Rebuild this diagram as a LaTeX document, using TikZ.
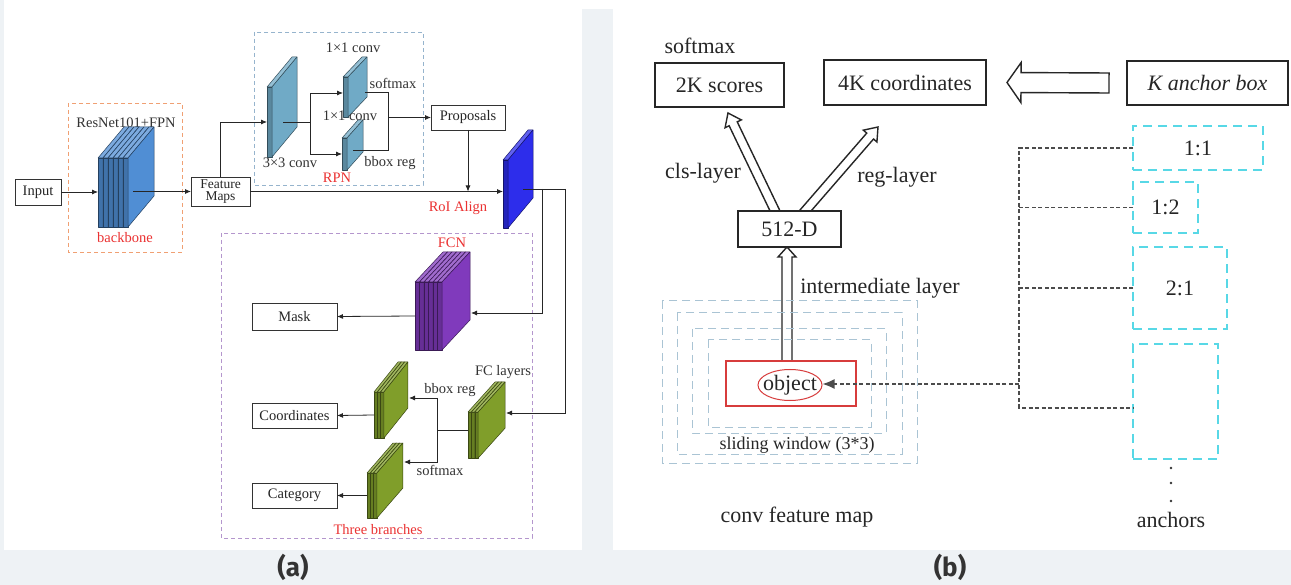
\documentclass[tikz,border=0pt]{standalone}
\usepackage{fontspec}
\setmainfont{Liberation Serif}
\newfontfamily\capfont{Fira Sans}
\usetikzlibrary{arrows.meta,calc,shapes.geometric}

\definecolor{pagebg}{RGB}{238,242,245}
\definecolor{labred}{RGB}{235,50,50}
\definecolor{bborange}{RGB}{240,160,115}
\definecolor{rpngrey}{RGB}{150,180,205}
\definecolor{brpurple}{RGB}{180,150,205}
\definecolor{bbblue}{RGB}{80,142,212}
\definecolor{rpnsteel}{RGB}{112,170,198}
\definecolor{roiblue}{RGB}{45,45,235}
\definecolor{fcnpurple}{RGB}{128,58,188}
\definecolor{fcgreen}{RGB}{128,158,42}
\definecolor{winblue}{RGB}{170,196,212}
\definecolor{ancyan}{RGB}{88,216,230}
\definecolor{objred}{RGB}{215,60,60}

\pgfdeclarelayer{bg}
\pgfdeclarelayer{mid}
\pgfsetlayers{bg,mid,main}

\tikzset{
  lbox/.style={draw=black!80, line width=0.9pt, fill=white, inner sep=0pt, outer sep=0pt,
    font=\fontsize{14.5}{15}\selectfont, text=black!85},
  rbox/.style={draw=black!85, line width=1.6pt, fill=white, inner sep=0pt, outer sep=0pt,
    font=\fontsize{22}{24}\selectfont, text=black!85},
  flow/.style={draw=black!85, line width=0.8pt, -{Latex[length=6pt,width=5pt]}},
  wire/.style={draw=black!85, line width=0.8pt},
  lab/.style={font=\fontsize{14.5}{15}\selectfont, text=black!80, inner sep=0pt},
  redlab/.style={lab, text=labred},
  rlab/.style={font=\fontsize{22}{24}\selectfont, text=black!85, inner sep=0pt},
  grpbox/.style={dash pattern=on 4pt off 3pt, line width=0.9pt},
  winbox/.style={draw=winblue, dash pattern=on 8pt off 5pt, line width=1pt},
  ancbox/.style={draw=ancyan, dash pattern=on 9pt off 6pt, line width=1.6pt, inner sep=0pt,
    outer sep=0pt, font=\fontsize{22}{24}\selectfont, text=black!85},
  ancline/.style={draw=black!70, dash pattern=on 4pt off 2.5pt, line width=1.3pt},
  slabedge/.style={draw=#1, line width=0.5pt, line join=round},
  hollow/.style={fill=white, draw=black!85, line width=1.4pt, line join=miter},
}

% a stack of 3-D feature slabs: name, count, x, y, width, height, depth-x, depth-rise, colour
\newcommand\slabstack[9]{%
  \foreach \k in {1,...,#2}{%
    \pgfmathsetmacro\sx{#3+(\k-1)*#5}%
    \filldraw[slabedge=#9!45!black, fill=#9!80!black] (\sx,#4) rectangle ++(#5,#6);
    \filldraw[slabedge=#9!45!black, fill=#9!75!white] (\sx,#4) -- ++(#7,-#8) -- ++(#5,0) -- ++(-#7,#8) -- cycle;
    \filldraw[slabedge=#9!45!black, fill=#9] ({\sx+#5},#4) -- ++(#7,-#8) -- ++(0,#6) -- ++(-#7,#8) -- cycle;
  }%
  \node[inner sep=0pt, outer sep=0pt, minimum width={#2*#5}, minimum height=#6, anchor=north west] (#1) at (#3,#4) {};
}

% outlined block arrow: tail, tip, body half-width, head half-width, head length
\newcommand\hollowarrow[5]{%
  \coordinate (ha-m) at ($(#2)!#5!(#1)$);
  \filldraw[hollow] ($(#1)!#3!90:(#2)$) -- ($(ha-m)!#3!-90:(#1)$) -- ($(ha-m)!#4!-90:(#1)$)
    -- (#2) -- ($(ha-m)!#4!90:(#1)$) -- ($(ha-m)!#3!90:(#1)$) -- ($(#1)!#3!-90:(#2)$) -- cycle;
}

\begin{document}
\begin{tikzpicture}[x=1pt,y=-1pt]
\useasboundingbox (0,0) rectangle (1291,585);

\begin{pgfonlayer}{bg}
  \fill[pagebg] (0,0) rectangle (1291,585);
  \fill[white] (4,0) rectangle (582,550);
  \fill[white] (613,0) rectangle (1291,550);
  \fill[white] (582,0) rectangle (613,9);
\end{pgfonlayer}

% ---------------- (a) Mask R-CNN ----------------
\draw[grpbox, draw=bborange] (68,103) rectangle (182,252);
\draw[grpbox, draw=rpngrey] (254,32) rectangle (423,185);
\draw[grpbox, draw=brpurple] (221,233) rectangle (532,538);

\node[lab] at (126,123) {ResNet101+FPN};

\slabstack{bb}{6}{98}{158}{5}{69}{26}{31}{bbblue}
\slabstack{c33}{1}{267}{87}{5}{70}{25}{30}{rpnsteel}
\slabstack{s1}{1}{343}{77}{5}{40}{19}{20}{rpnsteel}
\slabstack{s2}{1}{342}{138}{5}{32}{16}{18}{rpnsteel}
\slabstack{roi}{1}{503}{160}{5}{68}{25}{30}{roiblue}
\slabstack{fcn}{6}{415}{282}{4.5}{68}{28}{30}{fcnpurple}
\slabstack{fc}{3}{468}{412}{3.4}{46}{27}{30}{fcgreen}
\slabstack{g1}{3}{374}{392}{3.3}{46}{24}{30}{fcgreen}
\slabstack{g2}{3}{367}{473}{3.3}{45}{26}{30}{fcgreen}

\node[lbox, minimum width=46, minimum height=26] (in) at (38,192) {Input};
\node[lbox, minimum width=59, minimum height=29, align=center,
      font=\fontsize{13.5}{12.5}\selectfont] (fm) at (220.5,191.5) {Feature\\Maps};
\node[lbox, minimum width=74, minimum height=25] (prop) at (468,117.5) {Proposals};
\node[lbox, minimum width=85, minimum height=27] (mask) at (294.5,316.5) {Mask};
\node[lbox, minimum width=85, minimum height=25] (coord) at (294.5,415.5) {Coordinates};
\node[lbox, minimum width=85, minimum height=25] (cat) at (294.5,495.5) {Category};

\coordinate (bbout) at (133,191.5);
\coordinate (c33out) at (283,122);
\coordinate (split) at (310,122);
\coordinate (s1out) at (365,92);
\coordinate (s2out) at (353,150);
\coordinate (join) at (388,117.5);
\coordinate (roiout) at (523,189);
\coordinate (tapA) at (542,189);
\coordinate (tapB) at (565,189);
\coordinate (fcnin) at (471,313);
\coordinate (fcin) at (506,413);
\coordinate (fcsplit) at (437,430);
\coordinate (g1in) at (409,398);
\coordinate (g2in) at (404,462);

\draw[flow] (in.east) -- (in.east -| bb.west);
\draw[flow] (bbout) -- (fm.west);
\draw[flow] (fm.north) |- (c33.west);
\draw[wire] (c33out) -- (split);
\draw[flow] (split) |- ($(s1.west)+(0,-4)$);
\draw[flow] (split) |- (s2.west);
\draw[wire] (s1out) -| (join);
\draw[wire] (s2out) -| (join);
\draw[flow] (join) -- (prop.west);
\draw[flow] (prop.south) -- (prop.south |- fm.east);
\draw[flow] (fm.east) -- (fm.east -| roi.west);
\draw[wire] (roiout) -- (tapB);
\draw[flow] (tapA) |- (fcnin);
\draw[flow] (tapB) |- (fcin);
\draw[flow] (fcn.west) -- (mask.east);
\draw[wire] (fc.west |- fcsplit) -- (fcsplit);
\draw[flow] (fcsplit) |- (g1in);
\draw[flow] (fcsplit) |- (g2in);
\draw[flow] (g1.west) -- (coord.east);
\draw[flow] (g2.west) -- (cat.east);

\node[redlab] at (125,238) {backbone};
\node[lab] at (353,48) {1×1 conv};
\node[lab] at (393,83) {softmax};
\node[lab] at (350,116) {1×1 conv};
\node[lab] at (290,163) {3×3 conv};
\node[lab] at (390,163) {bbox reg};
\node[redlab] at (337,178) {RPN};
\node[redlab] at (458,208) {RoI Align};
\node[redlab] at (452,243) {FCN};
\node[lab] at (503,372) {FC layers};
\node[lab] at (450,390) {bbox reg};
\node[lab] at (440,470) {softmax};
\node[redlab] at (378,530) {Three branches};

% ---------------- (b) RPN anchors ----------------
\draw[winbox] (662,301) rectangle (917,463);
\draw[winbox] (677,313) rectangle (902,454);
\draw[winbox] (692,329) rectangle (886,433);
\draw[winbox] (708,340) rectangle (871,427);

\node[draw=objred, line width=1.3pt, minimum width=130, minimum height=45, inner sep=0pt,
      outer sep=0pt] (objbox) at (791,383.5) {};
\node[ellipse, draw=objred, line width=1pt, minimum width=64, minimum height=31,
      inner sep=0pt] (obj) at (790,385) {};
\node[rlab] at (obj.center) {object};

\node[rbox, minimum width=129, minimum height=44] (k2) at (719.5,85) {2K scores};
\node[rbox, minimum width=162, minimum height=45] (k4) at (905,82.5) {4K coordinates};
\node[rbox, minimum width=161, minimum height=44] (kab) at (1207.5,83) {\itshape K anchor box};
\node[rbox, minimum width=103, minimum height=36] (d512) at (789.5,229) {512-D};

\node[ancbox, minimum width=130, minimum height=44] (a11) at (1198,148) {1:1};
\node[ancbox, minimum width=65, minimum height=51] (a12) at (1165.5,207.5) {1:2};
\node[ancbox, minimum width=94, minimum height=82] (a21) at (1180,288) {2:1};
\node[ancbox, minimum width=85, minimum height=115] (ae) at (1175.5,401.5) {};

\coordinate (clsT) at ($(d512.north)+(-13,3)$);
\coordinate (clsH) at ($(k2.south)+(8.5,6)$);
\coordinate (regT) at ($(d512.north)+(13,3)$);
\coordinate (regH) at ($(k4.south)+(-27,22)$);
\coordinate (intT) at ($(objbox.north)+(-4,0)$);
\coordinate (intH) at ($(d512.south)+(-2.5,0)$);
\coordinate (kT) at ($(kab.west)+(-18,0)$);
\coordinate (kH) at ($(k4.east)+(21,0)$);

\begin{pgfonlayer}{mid}
  \hollowarrow{clsT}{clsH}{4.5pt}{9pt}{12pt}
  \hollowarrow{regT}{regH}{4.5pt}{9pt}{12pt}
  \hollowarrow{intT}{intH}{5pt}{9pt}{10pt}
  \hollowarrow{kT}{kH}{10pt}{20pt}{14pt}
\end{pgfonlayer}

\coordinate (bus) at (1019,148);
\coordinate (busend) at (1019,408);
\coordinate (tap) at (1019,384);
\draw[ancline] (a11.west) -- (bus) -- (busend) -- (busend -| ae.west);
\draw[ancline] (a12.west) -- (a12.west -| bus);
\draw[ancline] (a21.west) -- (a21.west -| bus);
\draw[ancline, -{Latex[length=12pt,width=10pt]}] (tap) -- (tap -| obj.east);

\fill[black!80] (1171,468) circle (1.3);
\fill[black!80] (1171,483) circle (1.3);
\fill[black!80] (1171,501) circle (1.3);

\node[rlab] at (700,46) {softmax};
\node[rlab] at (703,173) {cls-layer};
\node[rlab] at (897,177) {reg-layer};
\node[rlab] at (880,288) {intermediate layer};
\node[rlab, font=\fontsize{18}{20}\selectfont] at (797,445) {sliding window (3*3)};
\node[rlab] at (797,517) {conv feature map};
\node[rlab] at (1171,520) {anchors};

% ---------------- captions ----------------
\node[font={\capfont\bfseries\fontsize{26}{28}\selectfont}, text=black!80] at (293,567) {(a)};
\node[font={\capfont\bfseries\fontsize{26}{28}\selectfont}, text=black!80] at (950,567) {(b)};
\end{tikzpicture}
\end{document}
